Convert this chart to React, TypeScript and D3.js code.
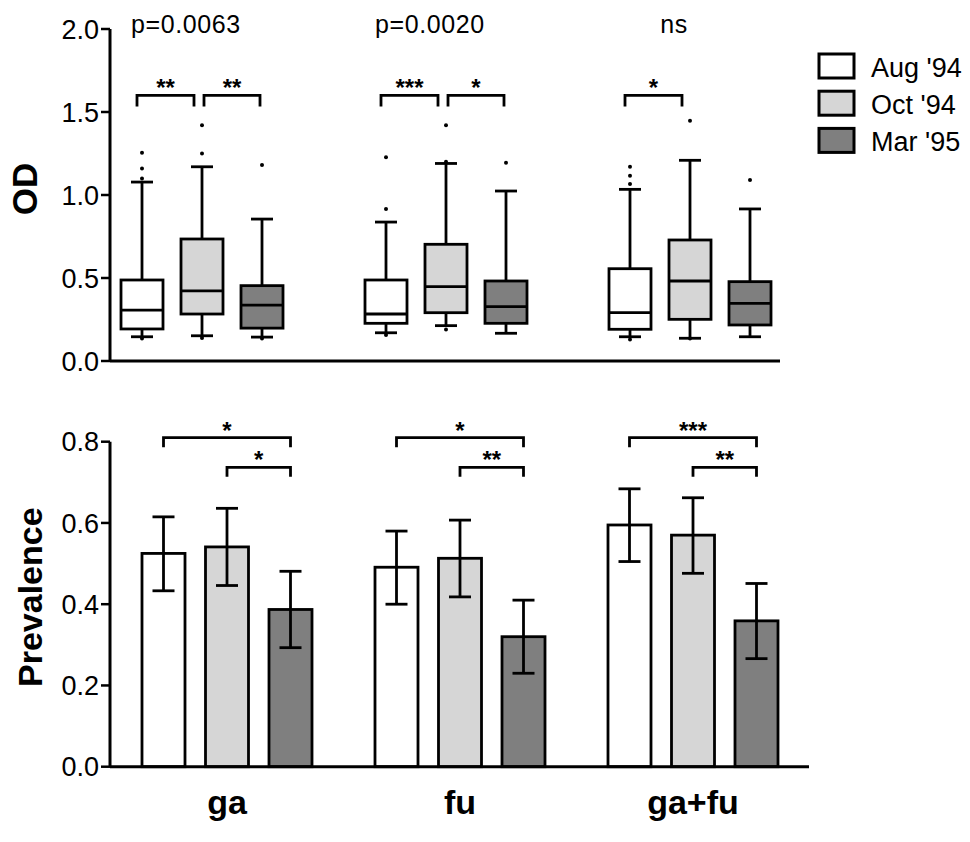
import React from "react";
import * as d3 from "d3";

const groups = ["ga", "fu", "ga+fu"];
const seasons = ["Aug '94", "Oct '94", "Mar '95"];
const seasonFills = ["#ffffff", "#d6d6d6", "#7f7f7f"];
const pLabels = ["p=0.0063", "p=0.0020", "ns"];

// Top panel: OD box plots [group][season]
const whiskerLow = [[0.146, 0.152, 0.144], [0.170, 0.213, 0.167], [0.146, 0.137, 0.146]];
const boxQ1 = [[0.193, 0.283, 0.198], [0.227, 0.291, 0.227], [0.191, 0.251, 0.217]];
const boxMedian = [[0.307, 0.422, 0.337], [0.283, 0.448, 0.327], [0.291, 0.482, 0.347]];
const boxQ3 = [[0.488, 0.735, 0.454], [0.488, 0.703, 0.482], [0.556, 0.729, 0.478]];
const whiskerHigh = [[1.078, 1.17, 0.855], [0.837, 1.19, 1.024], [1.034, 1.209, 0.916]];
const outliers = [
  [[1.255, 1.16, 1.1, 0.135], [1.42, 1.25, 0.138], [1.18, 0.135]],
  [[1.228, 0.915, 0.157], [1.42, 1.2, 0.19], [1.195]],
  [[1.17, 1.116, 1.066, 0.13], [1.448, 0.135], [1.09]],
];
const odTicks = [0, 0.5, 1.0, 1.5, 2.0];
const odBrackets = [
  [{ from: 0, to: 1, label: "**", level: 1.6 }, { from: 1, to: 2, label: "**", level: 1.6 }],
  [{ from: 0, to: 1, label: "***", level: 1.6 }, { from: 1, to: 2, label: "*", level: 1.6 }],
  [{ from: 0, to: 1, label: "*", level: 1.6 }],
];

// Bottom panel: prevalence [group][season]
const prevalence = [[0.525, 0.541, 0.387], [0.491, 0.513, 0.32], [0.595, 0.57, 0.359]];
const ciLow = [[0.433, 0.446, 0.293], [0.4, 0.418, 0.23], [0.505, 0.476, 0.266]];
const ciHigh = [[0.615, 0.636, 0.481], [0.58, 0.607, 0.41], [0.684, 0.662, 0.451]];
const prevTicks = [0, 0.2, 0.4, 0.6, 0.8];
const prevBrackets = [
  [{ from: 0, to: 2, label: "*", level: 0.81 }, { from: 1, to: 2, label: "*", level: 0.737 }],
  [{ from: 0, to: 2, label: "*", level: 0.81 }, { from: 1, to: 2, label: "**", level: 0.737 }],
  [{ from: 0, to: 2, label: "***", level: 0.81 }, { from: 1, to: 2, label: "**", level: 0.737 }],
];

const FONT = "'Liberation Sans', Arial, Helvetica, sans-serif";
const SW = 2.8;

export default function App() {
  const axisX = 110;

  // top scales
  const yTop = d3.scaleLinear().domain([0, 2]).range([361, 29]);
  const gTop = d3.scalePoint<string>().domain(groups).range([202, 690]);
  const sTop = d3.scalePoint<string>().domain(seasons).range([-60, 60]);
  const boxW = 42;
  const capW = 22;

  // bottom scales
  const yBot = d3.scaleLinear().domain([0, 0.8]).range([766.7, 441.7]);
  const gBot = d3.scalePoint<string>().domain(groups).range([227, 693]);
  const sBot = d3.scalePoint<string>().domain(seasons).range([-63.5, 63.5]);
  const barW = 43;

  const topCx = (g: number, s: number) => (gTop(groups[g]) as number) + (sTop(seasons[s]) as number);
  const botCx = (g: number, s: number) => (gBot(groups[g]) as number) + (sBot(seasons[s]) as number);

  const fmt = d3.format(".1f");

  return (
    <svg width={970} height={842} style={{ position: "absolute", left: 0, top: 0, background: "#fff" }} fontFamily={FONT}>
      {/* ===== Top panel ===== */}
      <g>
        <line x1={axisX} x2={axisX} y1={yTop(2)} y2={yTop(0)} stroke="#000" strokeWidth={3} />
        <line x1={axisX} x2={780} y1={yTop(0)} y2={yTop(0)} stroke="#000" strokeWidth={3} />
        {odTicks.map((t) => (
          <g key={t}>
            <line x1={axisX - 9} x2={axisX} y1={yTop(t)} y2={yTop(t)} stroke="#000" strokeWidth={2.5} />
            <text x={axisX - 11} y={yTop(t)} dy="0.36em" textAnchor="end" fontSize={27}>{fmt(t)}</text>
          </g>
        ))}
        <text transform={`translate(37,${(yTop(0) + yTop(2)) / 2 - 6}) rotate(-90)`} textAnchor="middle" fontSize={35} fontWeight="bold">OD</text>

        {groups.map((g, gi) => (
          <text key={g} x={(gTop(g) as number) - 16} y={33} textAnchor="middle" fontSize={25} letterSpacing={0.6}>{pLabels[gi]}</text>
        ))}

        {groups.map((g, gi) =>
          seasons.map((s, si) => {
            const cx = topCx(gi, si);
            return (
              <g key={g + s}>
                <line x1={cx} x2={cx} y1={yTop(whiskerHigh[gi][si])} y2={yTop(boxQ3[gi][si])} stroke="#000" strokeWidth={SW} />
                <line x1={cx} x2={cx} y1={yTop(boxQ1[gi][si])} y2={yTop(whiskerLow[gi][si])} stroke="#000" strokeWidth={SW} />
                <line x1={cx - capW / 2} x2={cx + capW / 2} y1={yTop(whiskerHigh[gi][si])} y2={yTop(whiskerHigh[gi][si])} stroke="#000" strokeWidth={SW} />
                <line x1={cx - capW / 2} x2={cx + capW / 2} y1={yTop(whiskerLow[gi][si])} y2={yTop(whiskerLow[gi][si])} stroke="#000" strokeWidth={SW} />
                <rect x={cx - boxW / 2} y={yTop(boxQ3[gi][si])} width={boxW} height={yTop(boxQ1[gi][si]) - yTop(boxQ3[gi][si])} fill={seasonFills[si]} stroke="#000" strokeWidth={SW} />
                <line x1={cx - boxW / 2} x2={cx + boxW / 2} y1={yTop(boxMedian[gi][si])} y2={yTop(boxMedian[gi][si])} stroke="#000" strokeWidth={SW} />
                {outliers[gi][si].map((o, oi) => (
                  <circle key={oi} cx={cx} cy={yTop(o)} r={2} fill="#000" />
                ))}
              </g>
            );
          })
        )}

        {odBrackets.map((bs, gi) =>
          bs.map((b, bi) => {
            const x1 = topCx(gi, b.from) + (b.from === 0 ? -5 : 2);
            const x2 = topCx(gi, b.to) + (b.to === 2 ? -2 : -8);
            const y = yTop(b.level);
            return (
              <g key={gi + "-" + bi}>
                <path d={`M${x1},${y + 11}V${y}H${x2}V${y + 11}`} fill="none" stroke="#000" strokeWidth={SW} />
                <text x={(x1 + x2) / 2} y={y + 1} textAnchor="middle" fontSize={24} fontWeight="bold">{b.label}</text>
              </g>
            );
          })
        )}

        {seasons.map((s, si) => (
          <g key={s}>
            <rect x={819} y={54 + si * 37.2} width={35} height={24} fill={seasonFills[si]} stroke="#000" strokeWidth={3} />
            <text x={871} y={77 + si * 37.2} fontSize={27}>{s}</text>
          </g>
        ))}
      </g>

      {/* ===== Bottom panel ===== */}
      <g>
        <line x1={axisX} x2={axisX} y1={yBot(0.8)} y2={yBot(0)} stroke="#000" strokeWidth={3} />
        {prevTicks.map((t) => (
          <g key={t}>
            <line x1={axisX - 9} x2={axisX} y1={yBot(t)} y2={yBot(t)} stroke="#000" strokeWidth={2.5} />
            <text x={axisX - 11} y={yBot(t)} dy="0.36em" textAnchor="end" fontSize={27}>{fmt(t)}</text>
          </g>
        ))}
        <text transform={`translate(42,${(yBot(0) + yBot(0.8)) / 2 - 7}) rotate(-90)`} textAnchor="middle" fontSize={34} fontWeight="bold">Prevalence</text>

        {groups.map((g, gi) =>
          seasons.map((s, si) => {
            const cx = botCx(gi, si);
            return (
              <g key={g + s}>
                <rect x={cx - barW / 2} y={yBot(prevalence[gi][si])} width={barW} height={yBot(0) - yBot(prevalence[gi][si])} fill={seasonFills[si]} stroke="#000" strokeWidth={SW} />
                <line x1={cx} x2={cx} y1={yBot(ciHigh[gi][si])} y2={yBot(ciLow[gi][si])} stroke="#000" strokeWidth={SW} />
                <line x1={cx - capW / 2} x2={cx + capW / 2} y1={yBot(ciHigh[gi][si])} y2={yBot(ciHigh[gi][si])} stroke="#000" strokeWidth={SW} />
                <line x1={cx - capW / 2} x2={cx + capW / 2} y1={yBot(ciLow[gi][si])} y2={yBot(ciLow[gi][si])} stroke="#000" strokeWidth={SW} />
              </g>
            );
          })
        )}
        <line x1={axisX} x2={809} y1={yBot(0)} y2={yBot(0)} stroke="#000" strokeWidth={3} />

        {prevBrackets.map((bs, gi) =>
          bs.map((b, bi) => {
            const x1 = botCx(gi, b.from);
            const x2 = botCx(gi, b.to);
            const y = yBot(b.level);
            return (
              <g key={gi + "-" + bi}>
                <path d={`M${x1},${y + 9.5}V${y}H${x2}V${y + 9.5}`} fill="none" stroke="#000" strokeWidth={SW} />
                <text x={(x1 + x2) / 2} y={y + 1} textAnchor="middle" fontSize={24} fontWeight="bold">{b.label}</text>
              </g>
            );
          })
        )}

        {groups.map((g) => (
          <text key={g} x={gBot(g) as number} y={814} textAnchor="middle" fontSize={34} fontWeight="bold">{g}</text>
        ))}
      </g>
    </svg>
  );
}
